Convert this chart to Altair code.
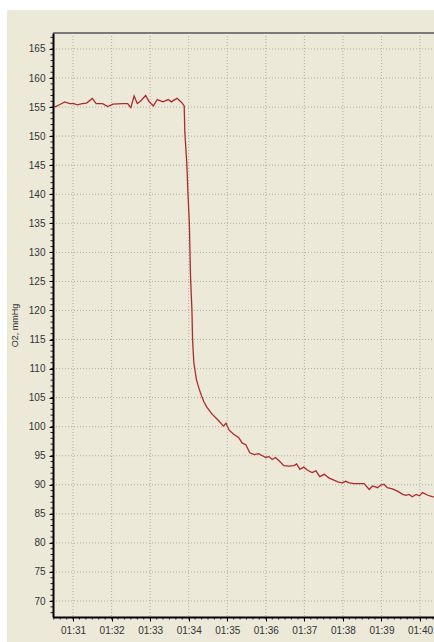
import altair as alt
import pandas as pd

# ---- data ----
seconds = [31, 39, 47, 55, 61, 67, 74, 81, 90, 96, 106, 114, 122, 137, 145, 150,
           155, 160, 165, 173, 178, 185, 191, 200, 208, 213, 217, 222, 229, 233,
           234, 237, 239, 241, 242, 243, 245, 246, 248, 252, 256, 260, 264, 268,
           276, 286, 294, 298, 303, 310, 318, 323, 329, 335, 342, 349, 354, 360,
           365, 370, 375, 381, 388, 396, 404, 408, 413, 419, 425, 432, 438, 444,
           451, 458, 466, 472, 479, 484, 490, 497, 513, 521, 526, 534, 539, 544,
           549, 557, 565, 573, 578, 583, 588, 594, 599, 604, 612, 619, 625]
o2 = [155.0, 155.4, 155.9, 155.6, 155.6, 155.4, 155.6, 155.7, 156.5, 155.6, 155.6,
      155.1, 155.5, 155.6, 155.6, 154.9, 156.9, 155.6, 156.0, 157.0, 156.0, 155.2,
      156.3, 155.9, 156.3, 155.9, 156.2, 156.5, 155.8, 155.2,
      150.6, 145.4, 139.7, 135.1, 129.9, 125.3, 120.2, 115.0, 111.0, 108.1, 106.6,
      105.3, 104.2, 103.4, 102.2, 101.1, 100.1, 100.6, 99.4, 98.7, 98.1, 97.2, 96.9,
      95.5, 95.2, 95.35, 95.05, 94.7, 94.85, 94.35, 94.7, 94.1, 93.3, 93.2, 93.3,
      93.6, 92.65, 93.05, 92.5, 92.1, 92.4, 91.4, 91.8, 91.2, 90.8, 90.5, 90.35,
      90.6, 90.35, 90.2, 90.2, 89.2, 89.8, 89.5, 89.95, 90.1, 89.5, 89.3, 88.9,
      88.35, 88.2, 88.35, 87.95, 88.35, 88.1, 88.65, 88.2, 87.95, 87.9]

x_major = [91, 92, 93, 94, 95, 96, 97, 98, 99, 100]          # minutes -> 01:31 .. 01:40
y_major = list(range(70, 170, 5))
x_minor = [90.5 + i / 6 for i in range(60)]                   # every 10 s
y_minor = list(range(68, 168))

df = pd.DataFrame({"t": [90 + s / 60 for s in seconds], "v": o2})

W, H = 381, 584
BEIGE = "#ECE9D9"
GRID = "#aeae9f"
FONT = "Liberation Sans"

xscale = alt.Scale(domain=[90.48, 100.363], zero=False, nice=False)
yscale = alt.Scale(domain=[67.25, 167.75], zero=False, nice=False)

xaxis = alt.Axis(values=x_major, labelExpr="'01:' + format(round(datum.value) - 60, '02d')",
                 title=None, grid=False, tickSize=4, tickColor="#000000", tickWidth=1,
                 domainColor="#000000", domainWidth=2, labelFont=FONT, labelFontSize=10,
                 labelColor="#333333", labelPadding=4, labelFlush=False, zindex=1)
yaxis = alt.Axis(values=y_major, title="O2, mmHg", grid=False, tickSize=4,
                 tickColor="#000000", tickWidth=1, domainColor="#000000", domainWidth=2,
                 labelFont=FONT, labelFontSize=10, labelColor="#333333", labelPadding=4,
                 labelFlush=False, titleFont=FONT, titleFontSize=9, titleFontWeight="normal",
                 titleColor="#333333", titleAngle=270, titleX=-39, titleY=H / 2,
                 titleAlign="center", titleBaseline="middle", zindex=1)

one = alt.Data(values=[{"a": 1}])

panel = alt.Chart(one).mark_rect(color=BEIGE).encode(
    x=alt.value(-46), x2=alt.value(W), y=alt.value(-23), y2=alt.value(H + 25))

vgrid = alt.Chart(pd.DataFrame({"g": x_major})).mark_rule(
    color=GRID, strokeDash=[1, 2], strokeWidth=1).encode(
    x=alt.X("g:Q", scale=xscale, axis=xaxis), y=alt.value(0), y2=alt.value(H))

hgrid = alt.Chart(pd.DataFrame({"h": y_major})).mark_rule(
    color=GRID, strokeDash=[1, 2], strokeWidth=1).encode(
    y=alt.Y("h:Q", scale=yscale, axis=yaxis), x=alt.value(0), x2=alt.value(W))

line = alt.Chart(df).mark_line(color="#b02a2a", strokeWidth=1.3, clip=True).encode(
    x=alt.X("t:Q", scale=xscale, axis=xaxis),
    y=alt.Y("v:Q", scale=yscale, axis=yaxis))

xminor = alt.Chart(pd.DataFrame({"m": x_minor})).mark_rule(color="#222222", strokeWidth=1).encode(
    x=alt.X("m:Q", scale=xscale, axis=xaxis), y=alt.value(H), y2=alt.value(H + 2.5))

yminor = alt.Chart(pd.DataFrame({"n": y_minor})).mark_rule(color="#222222", strokeWidth=1).encode(
    y=alt.Y("n:Q", scale=yscale, axis=yaxis), x=alt.value(-2.5), x2=alt.value(0))

top = alt.Chart(one).mark_rule(color="#7a7a7a", strokeWidth=2).encode(
    x=alt.value(0), x2=alt.value(W), y=alt.value(0))

chart = alt.layer(panel, vgrid, hgrid, line, top, xminor, yminor).properties(
    width=W, height=H,
    padding={"left": 53, "top": 33, "right": 0, "bottom": 25},
    autosize=alt.AutoSizeParams(type="none"),
    background="#ffffff",
).configure_view(stroke=None)

chart.save("out.html", embed_options={"renderer": "svg", "actions": False})
